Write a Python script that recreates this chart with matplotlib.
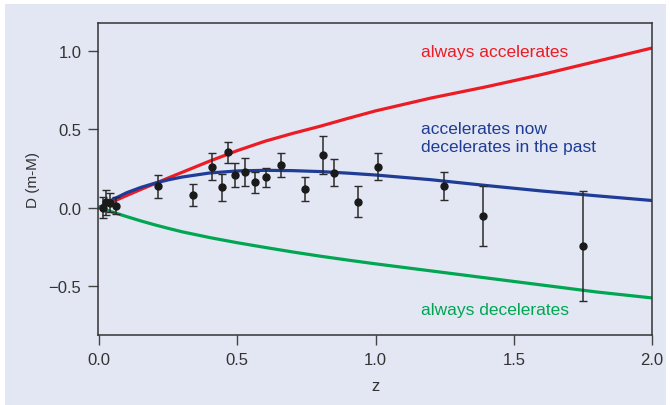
import matplotlib
matplotlib.use("Agg")
import matplotlib.pyplot as plt
from matplotlib.patches import Rectangle

plt.rcParams['font.family'] = ['Liberation Sans', 'DejaVu Sans']

# Model curves
z_curve = [0.0, 0.05, 0.1, 0.15, 0.2, 0.25, 0.3, 0.4, 0.5, 0.6, 0.7, 0.8, 0.9,
           1.0, 1.2, 1.4, 1.6, 1.8, 2.0]
d_accel = [0.0, 0.038, 0.077, 0.115, 0.152, 0.189, 0.225, 0.297, 0.364, 0.424,
           0.474, 0.52, 0.57, 0.618, 0.70, 0.772, 0.85, 0.935, 1.02]
d_mixed = [0.0, 0.052, 0.095, 0.128, 0.155, 0.177, 0.195, 0.221, 0.234, 0.238,
           0.236, 0.230, 0.220, 0.208, 0.178, 0.141, 0.106, 0.075, 0.045]
d_decel = [0.0, -0.03, -0.058, -0.085, -0.11, -0.133, -0.155, -0.192, -0.225,
           -0.255, -0.284, -0.311, -0.336, -0.36, -0.405, -0.45, -0.495, -0.54,
           -0.578]

# Supernova data points
z_data = [0.014, 0.024, 0.041, 0.061, 0.213, 0.341, 0.409, 0.446, 0.467, 0.492,
          0.527, 0.564, 0.605, 0.657, 0.746, 0.811, 0.851, 0.936, 1.009, 1.248,
          1.388, 1.752]
d_data = [0.0, 0.035, 0.03, 0.013, 0.136, 0.083, 0.261, 0.129, 0.352, 0.206,
          0.225, 0.161, 0.193, 0.272, 0.117, 0.336, 0.223, 0.038, 0.261, 0.138,
          -0.055, -0.246]
d_err = [0.07, 0.08, 0.06, 0.055, 0.075, 0.07, 0.085, 0.085, 0.067, 0.077,
         0.09, 0.066, 0.063, 0.078, 0.077, 0.122, 0.087, 0.098, 0.087, 0.089,
         0.19, 0.35]

xticks = [0.0, 0.5, 1.0, 1.5, 2.0]
yticks = [-0.5, 0.0, 0.5, 1.0]

RED = '#ec1c24'
BLUE = '#1f3c96'
GREEN = '#00a651'
BG = '#e3e7f3'

fig = plt.figure(figsize=(6.7, 4.06), dpi=100)
fig.patch.set_facecolor('white')
fig.patches.append(Rectangle((5 / 670, 0), 661 / 670, 401 / 406,
                             transform=fig.transFigure, facecolor=BG,
                             edgecolor='none', zorder=-10))

ax = fig.add_axes([98 / 670, 1 - 336 / 406, (652 - 98) / 670, (336 - 24) / 406])
ax.set_facecolor(BG)

ax.plot(z_curve, d_accel, color=RED, lw=2.3, zorder=2)
ax.plot(z_curve, d_mixed, color=BLUE, lw=2.3, zorder=2)
ax.plot(z_curve, d_decel, color=GREEN, lw=2.3, zorder=2)

ax.errorbar(z_data, d_data, yerr=d_err, fmt='o', color='#1a1a1a', ms=5,
            ecolor='#2a2a2a', elinewidth=1.1, capsize=2.6, capthick=1.0,
            zorder=3)

ax.set_xlim(-0.004, 2.0)
ax.set_ylim(-0.815, 1.18)
ax.set_xticks(xticks)
ax.set_xticklabels([f'{t:.1f}' for t in xticks])
ax.set_yticks(yticks)
ax.set_yticklabels([('\u2212' if t < 0 else '') + f'{abs(t):.1f}' for t in yticks])

for s in ax.spines.values():
    s.set_color('#333333')
    s.set_linewidth(1.1)
ax.tick_params(direction='out', length=7, width=1.0, color='#444444',
               labelsize=12, labelcolor='#333333', pad=5)
ax.tick_params(top=False, right=False)

ax.set_xlabel('z', fontsize=12, color='#333333', labelpad=8)
ax.set_ylabel('D (m-M)', fontsize=11, color='#333333', labelpad=6)

ax.text(1.163, 1.0, 'always accelerates', color=RED, fontsize=12.5,
        va='center', ha='left')
ax.text(1.163, 0.447, 'accelerates now\ndecelerates in the past', color=BLUE,
        fontsize=12.5, va='center', ha='left', linespacing=1.2)
ax.text(1.163, -0.65, 'always decelerates', color=GREEN, fontsize=12.5,
        va='center', ha='left')

fig.savefig('out.png', dpi=100, facecolor=fig.get_facecolor())
